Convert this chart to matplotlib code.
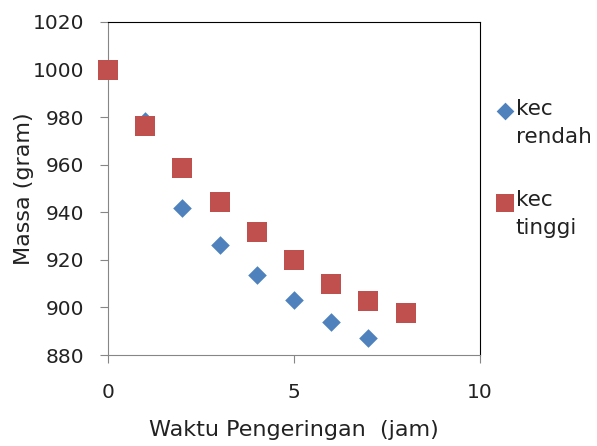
import matplotlib
matplotlib.use("Agg")
import matplotlib.pyplot as plt

# data
jam = [0, 1, 2, 3, 4, 5, 6, 7]
kec_rendah = [1000, 978.5, 941.7, 926.3, 913.8, 903.3, 893.8, 887.0]
jam_tinggi = [0, 1, 2, 3, 4, 5, 6, 7, 8]
kec_tinggi = [999.7, 976.3, 958.4, 944.2, 931.5, 920.0, 910.0, 902.5, 897.7]

biru = '#4F81BD'
merah = '#C0504D'
abu = '#868686'
teks = '#222222'

fig = plt.figure(figsize=(5.97, 4.46), dpi=100)
ax = fig.add_axes([0.181, 0.204, 0.623, 0.747])

ax.scatter(jam, kec_rendah, marker='D', s=90, color=biru, label='kec\nrendah',
           zorder=3, clip_on=False, linewidths=0)
ax.scatter(jam_tinggi, kec_tinggi, marker='s', s=205, color=merah, label='kec\ntinggi',
           zorder=4, clip_on=False, linewidths=0)

ax.set_xlim(0, 10)
ax.set_ylim(880, 1020)
ax.set_xticks([0, 5, 10])
ax.set_yticks(range(880, 1021, 20))

for s in ['left', 'bottom']:
    ax.spines[s].set_color(abu)
for s in ['top', 'right']:
    ax.spines[s].set_color('black')
ax.tick_params(direction='out', length=6, color=abu, labelsize=14.5, labelcolor=teks)
ax.tick_params(axis='x', pad=14)
ax.tick_params(axis='y', pad=11)

ax.set_xlabel('Waktu Pengeringan  (jam)', fontsize=16, color=teks)
ax.set_ylabel('Massa (gram)', fontsize=16, color=teks)
ax.xaxis.set_label_coords(0.5, -0.195)
ax.yaxis.set_label_coords(-0.2, 0.5)

leg = fig.legend(loc='upper left', bbox_to_anchor=(494 / 597, 1 - 99 / 446),
                 frameon=False, fontsize=15.5, handlelength=1.0, handletextpad=0.0,
                 labelspacing=2.0, markerscale=0.95, borderpad=0, borderaxespad=0)
for t in leg.get_texts():
    t.set_color(teks)
    t.set_linespacing(1.5)
# marker legenda sejajar baris pertama
for h in leg.legend_handles:
    off = h.get_offsets()
    off[:, 1] += 10
    h.set_offsets(off)

fig.savefig('out.png', dpi=100)
